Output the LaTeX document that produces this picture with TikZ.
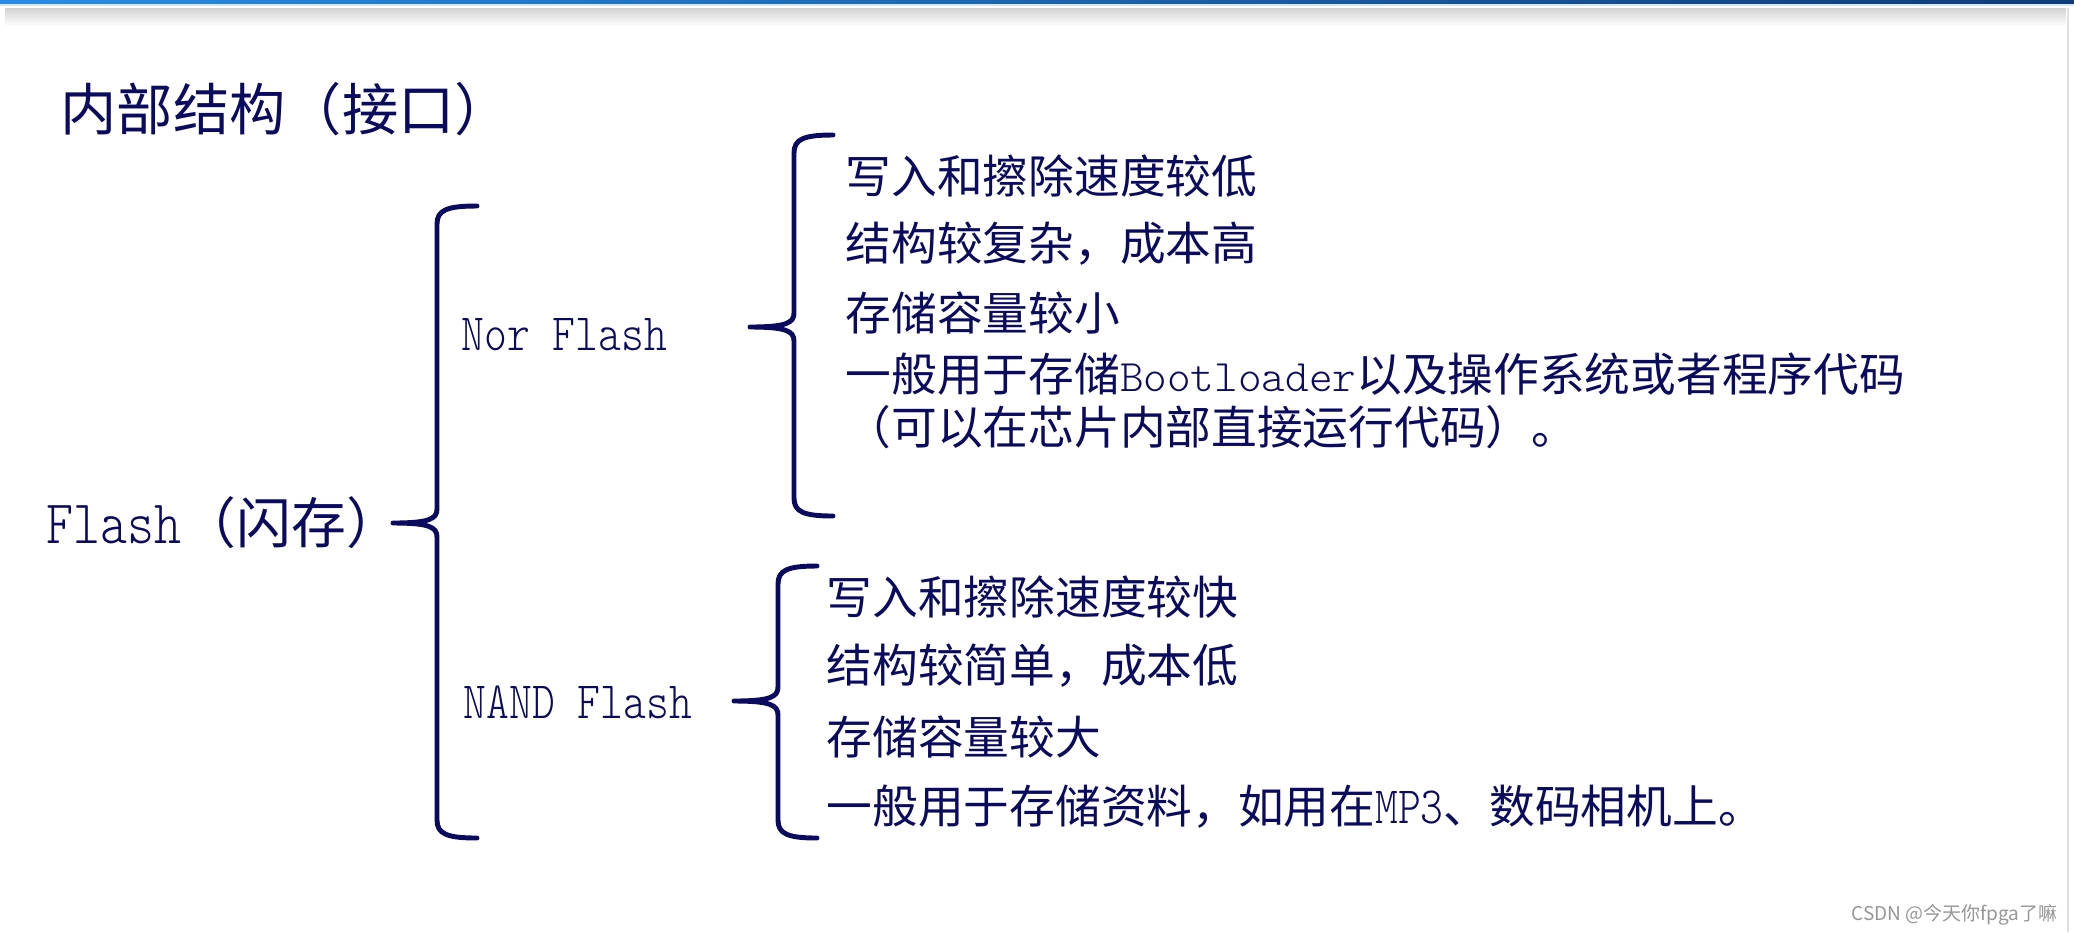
\documentclass[tikz,border=0pt]{standalone}
\usepackage{fontspec}
\setmainfont{Noto Sans CJK SC}
\newfontfamily\narrowtt{lmmonolt10-regular}[Extension=.otf,FakeStretch=0.83]
\newfontfamily\widett{lmmonolt10-regular}[Extension=.otf]
\definecolor{navy}{RGB}{10,10,95}
\definecolor{barleft}{RGB}{40,140,230}
\definecolor{barright}{RGB}{15,60,120}
\definecolor{markgray}{RGB}{150,150,150}

\begin{document}
\begin{tikzpicture}[x=0.01cm, y=-0.01cm,
  txt/.style={anchor=base west, inner sep=0pt, text=navy, font=\fontsize{13pt}{13pt}\selectfont},
  bracket/.style={draw=navy, line width=1.4pt, line cap=round, line join=round}]
\useasboundingbox (0,0) rectangle (2074,932);
% top bar
\shade[left color=barleft, right color=barright] (0,0.5) rectangle (2074,4);
\fill[barleft!20] (0,4) rectangle (2074,5.5);
\shade[top color=gray!35, bottom color=white] (5,8) rectangle (2066,26);
\draw[gray!25, line width=0.5pt] (2068,8) -- (2068,932);

\node[txt, font=\fontsize{16pt}{16pt}\selectfont] (title) at (60,130) {内部结构（接口）};
\node[txt, font=\fontsize{15.6pt}{15.6pt}\selectfont] (flash) at (46,543) {{\narrowtt\fontsize{17.6pt}{17.6pt}\selectfont Flash}（闪存）};
\node[txt, font=\narrowtt\fontsize{14.9pt}{14.9pt}\selectfont] (nor) at (461,350) {Nor Flash};
\node[txt, font=\narrowtt\fontsize{14.9pt}{14.9pt}\selectfont] (nand) at (463,718) {NAND Flash};

% Nor Flash
\foreach \i/\y/\txt in {1/193/写入和擦除速度较低, 2/260/结构较复杂，成本高, 3/330/存储容量较小,
  4/391/一般用于存储{\widett\fontsize{12.8pt}{12.8pt}\selectfont Bootloader}以及操作系统或者程序代码,
  5/444/（可以在芯片内部直接运行代码）。}
  \node[txt] (nor\i) at (845,\y) {\txt};

% NAND Flash
\foreach \i/\y/\txt in {1/614/写入和擦除速度较快, 2/682/结构较简单，成本低, 3/754/存储容量较大,
  4/823/一般用于存储资料，如用在{\narrowtt\fontsize{14.9pt}{14.9pt}\selectfont MP3}、数码相机上。}
  \node[txt] (nand\i) at (826,\y) {\txt};

% braces
\foreach \xe/\xl/\xt/\ya/\ym/\yb in {477/437/393/206/523/838, 833/794/750/135/327/516, 817/778/734/566/701/838}
  \draw[bracket] (\xe,\ya) .. controls (\xl+10,\ya) and (\xl,\ya+4) .. (\xl,\ya+18) -- (\xl,\ym-14)
    .. controls (\xl,\ym-4) and (\xl-8,\ym) .. (\xt,\ym) .. controls (\xl-8,\ym) and (\xl,\ym+4) .. (\xl,\ym+14)
    -- (\xl,\yb-18) .. controls (\xl,\yb-4) and (\xl+10,\yb) .. (\xe,\yb);

\node[anchor=base east, inner sep=0pt, text=markgray, font=\fontsize{5.4pt}{5.4pt}\selectfont] (mark) at (2058,920) {CSDN @今天你fpga了嘛};
\end{tikzpicture}
\end{document}
